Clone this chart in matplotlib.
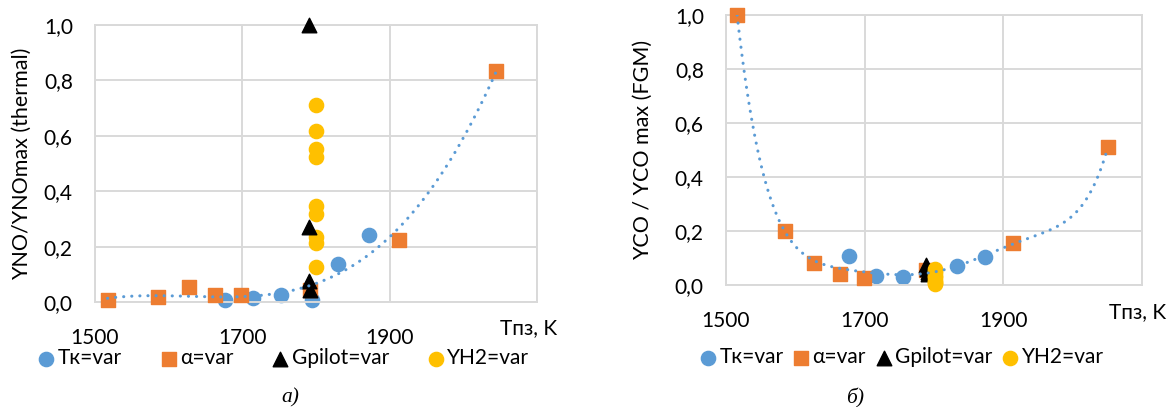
import matplotlib
matplotlib.use("Agg")
import matplotlib.pyplot as plt
import numpy as np

# ---- данные: а) YNO/YNOmax ----
t_tk_a = [1676, 1714, 1753, 1794, 1830, 1872]
y_tk_a = [0.007, 0.016, 0.025, 0.007, 0.137, 0.242]
t_alpha_a = [1517, 1585, 1627, 1663, 1698, 1792, 1912, 2045]
y_alpha_a = [0.007, 0.017, 0.053, 0.025, 0.025, 0.043, 0.224, 0.834]
t_gp_a = [1790, 1790, 1790, 1792]
y_gp_a = [1.0, 0.27, 0.075, 0.045]
t_h2_a = [1800] * 9
y_h2_a = [0.71, 0.616, 0.552, 0.522, 0.347, 0.318, 0.236, 0.212, 0.127]

# ---- данные: б) YCO/YCOmax ----
t_tk_b = [1678, 1716, 1755, 1833, 1874]
y_tk_b = [0.109, 0.035, 0.031, 0.070, 0.105]
t_alpha_b = [1516, 1585, 1627, 1664, 1699, 1789, 1914, 2051]
y_alpha_b = [1.0, 0.200, 0.083, 0.041, 0.027, 0.056, 0.154, 0.512]
t_gp_b = [1789, 1790, 1791, 1792]
y_gp_b = [0.075, 0.06, 0.05, 0.04]
t_h2_b = [1802] * 9
y_h2_b = [0.06, 0.052, 0.045, 0.035, 0.028, 0.02, 0.012, 0.006, 0.002]

x_ticks = [1500, 1700, 1900, 2100]
x_tick_labels = ["1500", "1700", "1900", ""]
y_ticks = [0.0, 0.2, 0.4, 0.6, 0.8, 1.0]
y_tick_labels = ["0,0", "0,2", "0,4", "0,6", "0,8", "1,0"]
series_names = ["Tк=var", "α=var", "Gpilot=var", "YH2=var"]

BLUE = "#5B9BD5"
ORANGE = "#ED7D31"
YELLOW = "#FFC000"
GRID = "#D9D9D9"
FONT = ["Lato", "DejaVu Sans"]
FS = 15

plt.rcParams["font.family"] = FONT

W, H = 1174, 407
fig = plt.figure(figsize=(W / 100, H / 100), dpi=100)


def px_axes(x0, y0, x1, y1):
    return fig.add_axes([x0 / W, 1 - y1 / H, (x1 - x0) / W, (y1 - y0) / H])


def panel(ax, data, deg, ylabel, yellow_on_top=False):
    (tk, ytk), (ta, ya), (tg, yg), (th, yh) = data
    ax.set_xlim(1500, 2100)
    ax.set_ylim(0, 1.0)
    ax.set_xticks(x_ticks, x_tick_labels)
    ax.set_yticks(y_ticks, y_tick_labels)
    ax.tick_params(length=0, labelsize=FS, pad=16)
    ax.tick_params(axis="x", pad=19)
    ax.grid(True, color=GRID, lw=1.4)
    ax.set_axisbelow(True)
    for s in ax.spines.values():
        s.set_color(GRID)
        s.set_linewidth(1.4)

    z_y, z_g = (5, 4) if yellow_on_top else (4, 5)
    h1 = ax.scatter(tk, ytk, s=105, marker="o", color=BLUE, zorder=2, clip_on=False)
    h2 = ax.scatter(ta, ya, s=105, marker="s", color=ORANGE, zorder=3, clip_on=False)
    h4 = ax.scatter(th, yh, s=105, marker="o", color=YELLOW, zorder=z_y, clip_on=False)
    h3 = ax.scatter(tg, yg, s=110, marker="^", color="black", zorder=z_g, clip_on=False)

    # полиномиальный тренд по рядам Tк и α
    tx = np.array(tk + ta, dtype=float)
    ty = np.array(ytk + ya, dtype=float)
    c = np.polyfit((tx - 1800) / 100, ty, deg)
    xs = np.linspace(min(ta), max(ta), 300)
    ax.plot(xs, np.polyval(c, (xs - 1800) / 100), color=BLUE, lw=2.2,
            linestyle=(0, (0.05, 2.6)), dash_capstyle="round", zorder=6)

    ax.set_ylabel(ylabel, fontsize=15.5)
    return [h1, h2, h3, h4]


ax1 = px_axes(95, 25, 537, 302)
hs = panel(ax1, [(t_tk_a, y_tk_a), (t_alpha_a, y_alpha_a), (t_gp_a, y_gp_a),
                 (t_h2_a, y_h2_a)], 3, "YNO/YNOmax (thermal)")
ax1.yaxis.set_label_coords(-0.143, 0.5)
fig.text(500 / W, 1 - 328 / H, "Tпз, K", fontsize=FS, va="center", ha="left")
fig.legend(hs, series_names, loc="center", bbox_to_anchor=(283 / W, 1 - 358 / H),
           ncol=4, frameon=False, fontsize=FS, handletextpad=0.1,
           columnspacing=1.8, handlelength=0.9, borderaxespad=0)
fig.text(290 / W, 1 - 398 / H, "а)", fontsize=15.5, family="Liberation Serif",
         style="italic", ha="center", va="center")

ax2 = px_axes(726, 15, 1142, 285)
hs = panel(ax2, [(t_tk_b, y_tk_b), (t_alpha_b, y_alpha_b), (t_gp_b, y_gp_b),
                 (t_h2_b, y_h2_b)], 6, "YCO / YCO max (FGM)", yellow_on_top=True)
ax2.yaxis.set_label_coords(-0.175, 0.5)
fig.text(1109 / W, 1 - 312 / H, "Tпз, K", fontsize=FS, va="center", ha="left")
fig.legend(hs, series_names, loc="center", bbox_to_anchor=(901 / W, 1 - 357 / H),
           ncol=4, frameon=False, fontsize=FS, handletextpad=0.1,
           columnspacing=0.4, handlelength=0.9, borderaxespad=0)
fig.text(855 / W, 1 - 398 / H, "б)", fontsize=15.5, family="Liberation Serif",
         style="italic", ha="center", va="center")

fig.savefig("out.png", dpi=100)
